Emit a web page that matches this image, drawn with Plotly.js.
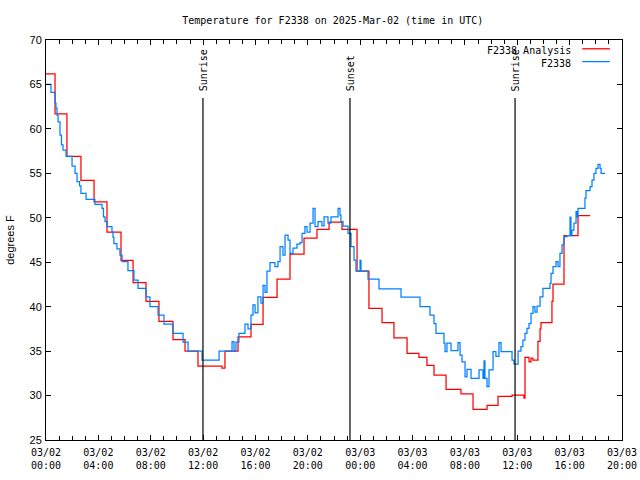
<!DOCTYPE html>
<html>
<head>
<meta charset="utf-8">
<script src="https://cdn.plot.ly/plotly-3.0.1.min.js"></script>
<style>html,body{margin:0;padding:0;background:#fff}#chart{width:640px;height:480px}</style>
</head>
<body>
<div id="chart"></div>
<script>
// Hours since 2025-03-02 00:00 UTC
const analysisHours = [0.00,0.69,1.60,2.67,3.67,4.66,5.73,6.65,7.64,8.63,9.70,10.62,11.61,13.44,13.67,14.67,15.66,16.58,17.65,18.64,19.71,20.70,21.62,22.61,23.76,24.67,25.67,26.58,27.58,28.49,29.10,29.64,30.56,31.70,32.62,33.69,34.53,35.60,36.51,36.59,36.90,37.05,37.20,37.58,37.74,37.81,38.65,38.73,39.57,40.64,41.56];
const analysisTemps = [66.2,61.7,56.9,54.2,51.8,48.4,45.2,42.7,40.6,38.35,36.3,35.0,33.3,33.1,35.0,36.6,38.0,41.05,43.1,45.9,47.7,48.7,49.5,48.7,44.0,39.8,38.2,36.5,34.75,34.3,33.4,32.3,30.7,30.2,28.45,28.9,29.9,30.05,29.7,34.3,33.8,34.2,34.0,36.1,37.5,38.2,40.6,42.55,48.0,50.23,50.23];

const obsHours = [0.00,0.38,0.69,0.76,0.84,0.92,1.07,1.18,1.30,1.53,1.99,2.22,2.37,2.56,2.67,3.06,3.74,4.28,4.39,4.51,4.66,5.04,5.12,5.19,5.42,5.65,5.81,6.26,6.72,7.03,7.64,7.94,8.56,9.01,9.70,10.47,10.85,11.92,13.22,14.21,14.36,14.51,14.74,15.20,15.43,15.66,15.81,15.97,16.19,16.42,16.58,16.73,16.88,17.11,17.49,17.72,17.88,18.10,18.26,18.49,18.64,18.87,19.17,19.40,19.56,19.78,19.94,20.17,20.40,20.55,20.78,21.08,21.24,21.54,21.77,22.31,22.46,22.53,22.69,23.07,23.30,23.53,23.68,23.99,24.06,24.60,25.44,27.12,28.57,29.33,29.64,29.79,30.40,30.48,30.63,30.94,31.47,31.63,31.78,32.01,32.16,32.47,33.08,33.38,33.46,33.53,33.69,33.84,34.15,34.37,34.60,34.76,35.60,35.75,36.06,36.28,36.43,36.59,36.74,36.90,37.05,37.20,37.35,37.51,37.74,37.96,38.50,38.58,38.73,38.96,39.11,39.26,39.42,39.57,39.80,40.03,40.10,40.18,40.33,40.49,40.56,40.64,41.17,41.25,41.56,41.71,41.86,42.01,42.17,42.32,42.40,42.70];
const obsTemps = [65.0,64.1,62.9,62.35,61.56,60.8,59.3,58.2,57.6,56.9,55.8,55.0,54.06,53.6,52.75,52.07,51.5,51.07,50.1,49.56,49.0,48.4,47.8,47.1,46.5,45.8,45.06,44.05,43.0,42.07,41.1,40.0,39.06,38.05,37.0,36.0,35.0,34.0,35.0,36.06,35.0,36.0,37.0,38.05,37.5,39.06,40.2,39.3,41.1,40.4,42.4,41.6,44.0,44.95,44.5,45.06,46.75,45.8,48.06,47.5,46.0,46.6,47.05,47.2,48.25,49.0,48.4,49.4,51.06,49.0,49.56,49.1,50.1,49.4,50.1,51.06,50.3,49.56,49.07,48.25,46.75,45.25,44.0,45.2,44.0,43.1,42.0,41.06,40.0,39.06,38.1,37.0,35.9,34.95,35.9,35.05,35.95,34.56,33.8,32.1,32.95,31.94,32.9,31.94,33.9,31.94,31.0,32.9,34.95,34.4,35.95,34.95,34.0,33.55,35.0,35.5,36.25,37.0,37.56,38.1,39.25,40.0,39.4,40.07,41.1,42.07,42.63,43.75,44.5,45.06,44.5,46.0,46.94,47.88,48.0,50.06,48.0,48.6,49.4,50.7,50.1,51.06,52.2,53.06,53.5,54.25,55.0,55.56,56.0,55.56,55.0,55.0];

const xTickHours = [0,4,8,12,16,20,24,28,32,36,40,44];
const xTickLabels = ['03/02<br>00:00','03/02<br>04:00','03/02<br>08:00','03/02<br>12:00','03/02<br>16:00','03/02<br>20:00','03/03<br>00:00','03/03<br>04:00','03/03<br>08:00','03/03<br>12:00','03/03<br>16:00','03/03<br>20:00'];
const yTicks = [25,30,35,40,45,50,55,60,65,70];

const eventNames = ['Sunrise','Sunset','Sunrise'];
const eventHours = [11.99, 23.22, 35.83];
const eventLineTop = 63.47;
const eventLabelBase = 64.0;

const seriesNames = ['F2338 Analysis','F2338'];
const seriesColors = ['#ff0000','#0080ff'];

const mono = 'DejaVu Sans Mono, monospace';
const sans = 'Liberation Sans, Arial, sans-serif';

const traces = [
  {x: analysisHours, y: analysisTemps, type: 'scatter', mode: 'lines', line: {color: seriesColors[0], width: 1.25, shape: 'hv'}, name: seriesNames[0], showlegend: false},
  {x: obsHours, y: obsTemps, type: 'scatter', mode: 'lines', line: {color: seriesColors[1], width: 1.25, shape: 'hv'}, name: seriesNames[1], showlegend: false}
];

const shapes = [];
const annotations = [];
eventHours.forEach((h, i) => {
  shapes.push({type: 'line', xref: 'x', yref: 'y', x0: h, x1: h, y0: 25, y1: eventLineTop, line: {color: '#000', width: 1.2}});
  annotations.push({xref: 'x', yref: 'y', x: h, y: eventLabelBase, text: eventNames[i], textangle: -90, showarrow: false, xanchor: 'center', yanchor: 'bottom', font: {family: mono, size: 10, color: '#000'}});
});

// custom legend (text right, sample line to the right)
const legY = [0.973, 0.941];
seriesNames.forEach((n, i) => {
  annotations.push({xref: 'paper', yref: 'paper', x: 0.915, y: legY[i], text: n, showarrow: false, xanchor: 'right', yanchor: 'middle', font: {family: mono, size: 10, color: '#000'}});
  shapes.push({type: 'line', xref: 'paper', yref: 'paper', x0: 0.931, x1: 0.979, y0: legY[i] + 0.005, y1: legY[i] + 0.005, line: {color: seriesColors[i], width: 1.3}});
});

const layout = {
  width: 640, height: 480,
  margin: {l: 46, r: 18, t: 40, b: 40, pad: 0},
  paper_bgcolor: '#fff', plot_bgcolor: '#fff',
  showlegend: false,
  title: {text: 'Temperature for F2338 on 2025-Mar-02 (time in UTC)', font: {family: mono, size: 10, color: '#000'}, x: 0.52, xanchor: 'center', y: 0.958, yanchor: 'middle'},
  xaxis: {
    range: [0, 44], tickmode: 'array', tickvals: xTickHours, ticktext: xTickLabels,
    ticks: 'inside', ticklen: 5, tickcolor: '#000', tickwidth: 1, ticklabelstandoff: 3,
    minor: {dtick: 1, ticks: 'inside', ticklen: 4, tickcolor: '#000', showgrid: false},
    showline: true, linecolor: '#000', linewidth: 1, mirror: 'allticks',
    showgrid: false, zeroline: false, automargin: false,
    tickfont: {family: mono, size: 10, color: '#000'}
  },
  yaxis: {
    range: [25, 70], tickmode: 'array', tickvals: yTicks,
    ticks: 'inside', ticklen: 5, tickcolor: '#000', tickwidth: 1, ticklabelstandoff: 1,
    showline: true, linecolor: '#000', linewidth: 1, mirror: 'allticks',
    showgrid: false, zeroline: false, automargin: false,
    tickfont: {family: sans, size: 11, color: '#000'},
    title: {text: 'degrees F', font: {family: sans, size: 11, color: '#000'}, standoff: 12}
  },
  shapes: shapes,
  annotations: annotations
};

Plotly.newPlot('chart', traces, layout, {staticPlot: true, displayModeBar: false});
</script>
</body>
</html>
